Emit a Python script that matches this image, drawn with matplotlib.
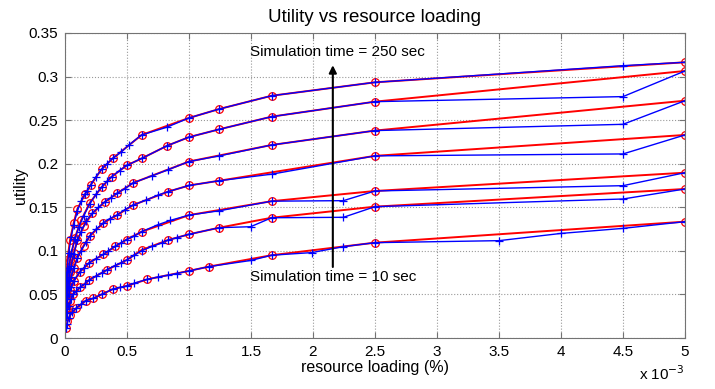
import matplotlib.pyplot as plt

plt.rcParams['font.family'] = ['Liberation Sans', 'DejaVu Sans']

# resource loading in units of 1e-3 (%), utility values
# one entry per simulation time, top curve (250 sec) first, bottom (10 sec) last
red_x = [
    [0.008, 0.02, 0.04, 0.07, 0.1, 0.161, 0.207, 0.295, 0.384, 0.618, 1.0, 1.245, 1.667, 2.5, 5.0],
    [0.008, 0.02, 0.04, 0.08, 0.13, 0.2, 0.295, 0.376, 0.497, 0.618, 0.825, 1.0, 1.245, 1.667, 2.5, 5.0],
    [0.008, 0.02, 0.04, 0.07, 0.1, 0.15, 0.22, 0.32, 0.42, 0.55, 1.0, 1.667, 2.5, 5.0],
    [0.008, 0.02, 0.04, 0.07, 0.1, 0.15, 0.2, 0.31, 0.42, 0.55, 0.833, 1.0, 1.245, 2.5, 5.0],
    [0.008, 0.02, 0.04, 0.07, 0.12, 0.196, 0.31, 0.403, 0.497, 0.618, 1.0, 1.667, 2.5, 5.0],
    [0.008, 0.02, 0.04, 0.067, 0.121, 0.196, 0.336, 0.497, 0.618, 0.833, 1.0, 1.245, 1.667, 2.5, 5.0],
    [0.008, 0.02, 0.04, 0.089, 0.169, 0.228, 0.295, 0.384, 0.497, 0.664, 1.0, 1.164, 1.667, 2.5, 5.0],
]
red_y = [
    [0.062, 0.09, 0.112, 0.132, 0.148, 0.165, 0.1756, 0.1936, 0.206, 0.233, 0.2525, 0.2628, 0.278, 0.2934, 0.3164],
    [0.05, 0.07, 0.09, 0.115, 0.135, 0.155, 0.173, 0.185, 0.198, 0.206, 0.2207, 0.2305, 0.2395, 0.254, 0.2712, 0.3064],
    [0.042, 0.058, 0.076, 0.097, 0.112, 0.128, 0.143, 0.156, 0.166, 0.178, 0.2025, 0.2215, 0.238, 0.2723],
    [0.038, 0.05, 0.065, 0.08, 0.092, 0.106, 0.117, 0.132, 0.141, 0.1526, 0.168, 0.175, 0.1805, 0.209, 0.233],
    [0.035, 0.045, 0.055, 0.065, 0.076, 0.0864, 0.096, 0.105, 0.113, 0.122, 0.141, 0.157, 0.1687, 0.1897],
    [0.025, 0.033, 0.042, 0.05, 0.058, 0.0666, 0.078, 0.0895, 0.101, 0.1125, 0.119, 0.1266, 0.138, 0.1507, 0.171],
    [0.012, 0.019, 0.026, 0.034, 0.043, 0.0455, 0.05, 0.056, 0.0597, 0.0673, 0.077, 0.082, 0.095, 0.1094, 0.1335],
]
blue_x = [
    [0.008, 0.015, 0.03, 0.05, 0.07, 0.1, 0.13, 0.161, 0.18, 0.207, 0.25, 0.295, 0.34, 0.384, 0.45, 0.52,
     0.618, 0.82, 1.0, 1.245, 1.667, 2.5, 4.5, 5.0],
    [0.008, 0.015, 0.03, 0.05, 0.08, 0.11, 0.15, 0.2, 0.25, 0.295, 0.34, 0.376, 0.44, 0.497, 0.618, 0.825,
     1.0, 1.245, 1.667, 2.5, 4.5, 5.0],
    [0.008, 0.015, 0.03, 0.05, 0.07, 0.1, 0.13, 0.17, 0.22, 0.27, 0.32, 0.37, 0.42, 0.48, 0.55, 0.7, 0.83,
     1.0, 1.245, 1.667, 2.5, 4.5, 5.0],
    [0.008, 0.015, 0.03, 0.05, 0.07, 0.1, 0.13, 0.17, 0.2, 0.25, 0.31, 0.36, 0.42, 0.48, 0.55, 0.65, 0.75,
     0.833, 1.0, 1.245, 1.667, 2.5, 4.5, 5.0],
    [0.008, 0.015, 0.03, 0.05, 0.07, 0.12, 0.15, 0.196, 0.25, 0.31, 0.35, 0.403, 0.45, 0.497, 0.56, 0.618,
     0.75, 0.85, 1.0, 1.245, 1.667, 2.245, 2.5, 4.5, 5.0],
    [0.008, 0.015, 0.03, 0.05, 0.067, 0.09, 0.121, 0.16, 0.196, 0.25, 0.3, 0.336, 0.4, 0.45, 0.497, 0.56,
     0.618, 0.7, 0.78, 0.833, 0.9, 1.0, 1.245, 1.497, 1.667, 2.245, 2.5, 4.5, 5.0],
    [0.008, 0.015, 0.03, 0.06, 0.089, 0.13, 0.169, 0.228, 0.295, 0.384, 0.44, 0.497, 0.56, 0.664, 0.75,
     0.83, 0.9, 1.0, 1.164, 1.5, 1.667, 1.99, 2.245, 2.5, 3.5, 4.0, 4.5, 5.0],
]
blue_y = [
    [0.06, 0.076, 0.098, 0.116, 0.13, 0.146, 0.157, 0.165, 0.169, 0.1756, 0.185, 0.1936, 0.2, 0.206, 0.213, 0.222,
     0.233, 0.2418, 0.2525, 0.2628, 0.278, 0.2934, 0.3125, 0.3164],
    [0.048, 0.06, 0.08, 0.097, 0.114, 0.127, 0.14, 0.154, 0.165, 0.173, 0.18, 0.185, 0.192, 0.198, 0.206, 0.2207,
     0.2305, 0.2395, 0.254, 0.2712, 0.277, 0.3064],
    [0.04, 0.05, 0.067, 0.083, 0.096, 0.112, 0.122, 0.134, 0.143, 0.15, 0.156, 0.161, 0.166, 0.171, 0.178, 0.186,
     0.193, 0.2025, 0.209, 0.2215, 0.238, 0.2452, 0.2723],
    [0.036, 0.045, 0.058, 0.07, 0.08, 0.092, 0.1, 0.11, 0.117, 0.125, 0.132, 0.137, 0.141, 0.147, 0.1526, 0.158,
     0.164, 0.168, 0.175, 0.1805, 0.188, 0.209, 0.2112, 0.233],
    [0.033, 0.04, 0.05, 0.058, 0.065, 0.076, 0.08, 0.0864, 0.091, 0.096, 0.1, 0.105, 0.109, 0.113, 0.117, 0.122,
     0.13, 0.135, 0.141, 0.146, 0.157, 0.1576, 0.1687, 0.1748, 0.1897],
    [0.024, 0.029, 0.037, 0.045, 0.05, 0.054, 0.058, 0.062, 0.0666, 0.071, 0.075, 0.078, 0.083, 0.086, 0.0895,
     0.095, 0.1, 0.105, 0.109, 0.1125, 0.115, 0.119, 0.1266, 0.1277, 0.138, 0.1385, 0.1507, 0.1595, 0.171],
    [0.011, 0.016, 0.023, 0.03, 0.034, 0.039, 0.043, 0.0455, 0.05, 0.056, 0.058, 0.0597, 0.063, 0.0673, 0.07,
     0.072, 0.074, 0.077, 0.082, 0.089, 0.095, 0.098, 0.1048, 0.1094, 0.1117, 0.12, 0.1258, 0.1335],
]

x_ticks = [0, 0.5, 1, 1.5, 2, 2.5, 3, 3.5, 4, 4.5, 5]
y_ticks = [0, 0.05, 0.1, 0.15, 0.2, 0.25, 0.3, 0.35]

fig = plt.figure(figsize=(7.15, 3.89), dpi=100)
ax = fig.add_axes([0.0909, 0.1311, 0.8671, 0.7841])

for xs, ys in zip(red_x, red_y):
    ax.plot(xs, ys, color='#ff0000', lw=1.4, marker='o', ms=5.5, mfc='none', mec='#ff0000', mew=0.9)
for xs, ys in zip(blue_x, blue_y):
    ax.plot(xs, ys, color='#0000ff', lw=1.0, marker='+', ms=6, mew=0.9)

# arrow between the two annotations
ax.annotate('', xy=(2.16, 0.313), xytext=(2.16, 0.0815),
            arrowprops=dict(arrowstyle='-|>', color='k', lw=1.5, mutation_scale=11, shrinkA=0, shrinkB=0))
ax.text(2.2, 0.328, 'Simulation time = 250 sec', ha='center', va='center', fontsize=11)
ax.text(2.16, 0.0697, 'Simulation time = 10 sec', ha='center', va='center', fontsize=11)

ax.set_xlim(0, 5)
ax.set_ylim(0, 0.35)
ax.set_xticks(x_ticks)
ax.set_xticklabels(['%g' % t for t in x_ticks])
ax.set_yticks(y_ticks)
ax.set_yticklabels(['%g' % t for t in y_ticks])
ax.tick_params(direction='in', length=4, width=0.8, color='0.45', labelsize=11,
               top=True, right=True, pad=5)
for s in ax.spines.values():
    s.set_color('0.45')
    s.set_linewidth(0.8)
ax.grid(True, linestyle=':', color='0.6', linewidth=0.8)

ax.set_title('Utility vs resource loading', fontsize=13.5, pad=8)
ax.set_xlabel('resource loading (%)', fontsize=11.5, labelpad=1)
ax.set_ylabel('utility', fontsize=11.5, labelpad=0)
ax.text(1.0, -0.085, r'x 10$^{-3}$', transform=ax.transAxes, ha='right', va='top', fontsize=11)

fig.savefig('out.png', dpi=100)
